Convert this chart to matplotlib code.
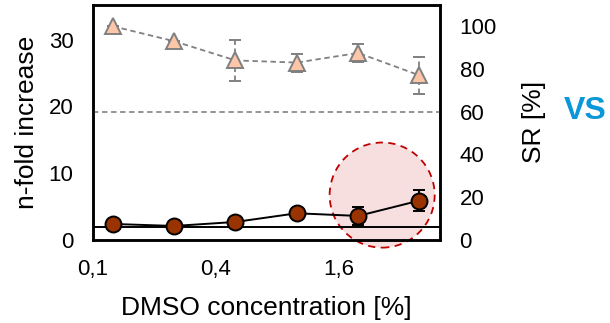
import matplotlib.pyplot as plt
from matplotlib.patches import Ellipse
from matplotlib.ticker import FixedLocator, FixedFormatter, NullLocator

plt.rcParams['font.family'] = ['Liberation Sans', 'DejaVu Sans']

# DMSO concentration [%]
dmso = [0.125, 0.25, 0.5, 1, 2, 4]
# n-fold increase (left axis)
nfold = [2.4, 2.1, 2.7, 4.0, 3.6, 5.9]
nfold_err = [0.0, 0.0, 0.0, 0.0, 1.3, 1.6]
# survival rate SR [%] (right axis)
sr = [100, 93, 84, 83, 87.5, 77]
sr_err = [0, 0, 9.5, 4.2, 4.4, 8.7]

nfold_ref = 2     # horizontal reference on left axis
sr_ref = 60       # horizontal reference on right axis

xticks = [0.1, 0.4, 1.6]
xticklabels = ['0,1', '0,4', '1,6']

fig = plt.figure(figsize=(6.1, 3.23), dpi=100)
ax = fig.add_axes([0.1525, 0.257, 0.569, 0.728])
ax2 = ax.twinx()

# left axis: n-fold increase
ax.set_xscale('log', base=2)
ax.set_xlim(0.1, 5.05)
ax.set_ylim(0, 35.2)
ax.axhline(nfold_ref, color='black', lw=1.4, zorder=2)
ax.errorbar(dmso, nfold, yerr=nfold_err, fmt='-o', color='black', lw=1.4,
            ms=11.5, mfc='#993300', mec='black', mew=1.4,
            capsize=4, elinewidth=1.4, capthick=1.4, zorder=4)

# highlight circle around the last points
hl = Ellipse((0.833, 0.191), 0.3026, 0.447, transform=ax.transAxes,
             facecolor='#f7dfe0', edgecolor='#c00000', lw=1.3,
             linestyle=(0, (4, 3)), clip_on=False, zorder=1)
ax.add_patch(hl)

# right axis: SR
ax2.set_ylim(0, 110)
ax2.axhline(sr_ref, color='#8c8c8c', lw=1.3, ls=(0, (3, 2)))
eb = ax2.errorbar(dmso, sr, yerr=sr_err, fmt='^', ls=(0, (3, 2)),
                  color='#808080', lw=1.3, ms=11, mfc='#fdc6a9',
                  mec='#808080', mew=1.4, capsize=4,
                  elinewidth=1.3, capthick=1.3)
for bar in eb[2]:
    bar.set_linestyle((0, (3, 2)))

ax.xaxis.set_major_locator(FixedLocator(xticks))
ax.xaxis.set_major_formatter(FixedFormatter(xticklabels))
ax.xaxis.set_minor_locator(NullLocator())
ax.set_yticks([0, 10, 20, 30])
ax2.set_yticks([0, 20, 40, 60, 80, 100])

for a in (ax, ax2):
    a.tick_params(length=0, labelsize=16, pad=14)
    for s in a.spines.values():
        s.set_linewidth(1.8)
ax.tick_params(axis='x', pad=14)

ax.set_xlabel('DMSO concentration [%]', fontsize=19, labelpad=11)
ax.set_ylabel('n-fold increase', fontsize=19, labelpad=7)
ax2.set_ylabel('SR [%]', fontsize=19, labelpad=18)

fig.text(0.925, 0.655, 'VS', color='#0a97d9', fontsize=23,
         fontweight='bold', va='center', ha='left')

fig.savefig('out.png', dpi=100)
